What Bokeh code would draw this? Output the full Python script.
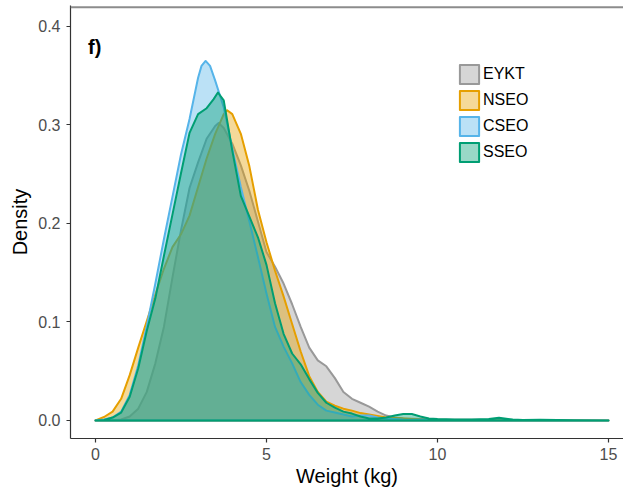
from bokeh.plotting import figure
from bokeh.models import (Legend, LegendItem, Span, Label, FixedTicker,
                          PrintfTickFormatter, Range1d)
from bokeh.embed import file_html
from bokeh.resources import INLINE

# ---- data ----
SERIES = ["EYKT", "NSEO", "CSEO", "SSEO"]
COLORS = ["#999999", "#E69F00", "#56B4E9", "#009E73"]

EYKT_X = [0, 0.5, 0.75, 1.0, 1.25, 1.5, 1.75, 2.0, 2.25, 2.5, 2.75, 3.0, 3.25, 3.5, 3.6, 3.75,
          4.0, 4.25, 4.5, 4.75, 5.0, 5.25, 5.5, 5.75, 6.0, 6.25, 6.5, 6.75, 7.0, 7.25, 7.5, 7.75,
          8.0, 8.25, 8.5, 8.75, 9.0, 9.5, 10, 11, 12, 13, 14, 15]
EYKT_Y = [0, 0, 0.001, 0.004, 0.012, 0.029, 0.058, 0.095, 0.145, 0.193, 0.236, 0.262, 0.286, 0.299, 0.302, 0.297,
          0.281, 0.259, 0.233, 0.202, 0.171, 0.156, 0.139, 0.118, 0.095, 0.074, 0.061, 0.055, 0.043, 0.029, 0.022, 0.018,
          0.014, 0.009, 0.005, 0.003, 0.002, 0.0015, 0.001, 0.0008, 0.0005, 0.0003, 0.0001, 0]

NSEO_X = [0, 0.25, 0.5, 0.75, 1.0, 1.25, 1.5, 1.75, 2.0, 2.25, 2.5, 2.75, 3.0, 3.25, 3.5, 3.75, 3.85,
          4.0, 4.25, 4.5, 4.75, 5.0, 5.25, 5.5, 5.75, 6.0, 6.25, 6.5, 6.75, 7.0, 7.25, 7.5, 7.75,
          8.0, 8.25, 8.5, 9.0, 9.5, 10, 11, 15]
NSEO_Y = [0, 0.0035, 0.009, 0.022, 0.046, 0.074, 0.101, 0.128, 0.154, 0.176, 0.189, 0.208, 0.237, 0.266, 0.291, 0.311, 0.315,
          0.311, 0.291, 0.258, 0.214, 0.181, 0.152, 0.126, 0.098, 0.070, 0.045, 0.029, 0.019, 0.015, 0.012, 0.010, 0.0075,
          0.006, 0.0045, 0.003, 0.002, 0.001, 0.0005, 0.0002, 0]

CSEO_X = [0, 0.25, 0.5, 0.75, 1.0, 1.25, 1.5, 1.75, 2.0, 2.25, 2.5, 2.75, 3.0, 3.1, 3.22, 3.35, 3.5, 3.75,
          4.0, 4.25, 4.5, 4.75, 5.0, 5.25, 5.5, 5.75, 6.0, 6.25, 6.5, 6.75, 7.0, 7.25, 7.5, 7.75,
          8.0, 8.25, 8.5, 9.0, 10, 11, 15]
CSEO_Y = [0, 0.001, 0.003, 0.009, 0.026, 0.056, 0.096, 0.139, 0.184, 0.227, 0.270, 0.306, 0.348, 0.360, 0.365, 0.360, 0.345, 0.318,
          0.276, 0.237, 0.202, 0.166, 0.129, 0.095, 0.075, 0.058, 0.039, 0.026, 0.016, 0.010, 0.008, 0.006, 0.004, 0.005,
          0.005, 0.003, 0.002, 0.001, 0.0005, 0, 0]

SSEO_X = [0, 0.25, 0.5, 0.75, 1.0, 1.25, 1.5, 1.75, 2.0, 2.25, 2.5, 2.75, 3.0, 3.25, 3.45, 3.58, 3.75,
          4.0, 4.25, 4.5, 4.75, 5.0, 5.25, 5.5, 5.75, 6.0, 6.25, 6.5, 6.75, 7.0, 7.25, 7.5, 7.75,
          8.0, 8.25, 8.5, 8.75, 9.0, 9.25, 9.5, 9.75, 10, 10.5, 11, 11.5, 11.8, 12.2, 12.5, 13, 14, 15]
SSEO_Y = [0, 0.0005, 0.003, 0.008, 0.024, 0.053, 0.091, 0.124, 0.167, 0.209, 0.251, 0.292, 0.311, 0.317, 0.326, 0.333, 0.325,
          0.274, 0.228, 0.207, 0.186, 0.158, 0.119, 0.088, 0.068, 0.057, 0.042, 0.028, 0.018, 0.013, 0.009, 0.007, 0.004,
          0.002, 0.002, 0.003, 0.005, 0.0065, 0.0065, 0.004, 0.002, 0.0015, 0.001, 0.001, 0.0015, 0.0027, 0.001, 0.0005, 0.0008, 0.0002, 0]

X_TICKS = [0, 5, 10, 15]
Y_TICKS = [0.0, 0.1, 0.2, 0.3, 0.4]
PANEL_TAG = "f)"

FONT = "Liberation Sans"
X_END = 15.44
Y_END = 0.4213

p = figure(width=623, height=491, output_backend="svg", toolbar_location=None,
           x_range=Range1d(-0.731, X_END), y_range=Range1d(-0.0183, Y_END),
           min_border_left=70, min_border_right=0, min_border_top=5, min_border_bottom=53)
p.xgrid.visible = False
p.ygrid.visible = False
p.outline_line_color = None
p.background_fill_color = "white"
p.border_fill_color = "white"

data = [(EYKT_X, EYKT_Y), (NSEO_X, NSEO_Y), (CSEO_X, CSEO_Y), (SSEO_X, SSEO_Y)]
items = []
for name, col, (xs, ys) in zip(SERIES, COLORS, data):
    r = p.patch(xs, ys, fill_color=col, fill_alpha=0.4, line_color=col, line_width=2,
                line_join="round")
    items.append(LegendItem(label=name, renderers=[r]))

for ax in (p.xaxis[0], p.yaxis[0]):
    ax.axis_line_color = "#333333"
    ax.axis_line_width = 1.2
    ax.major_tick_line_color = "#333333"
    ax.major_tick_line_width = 1.2
    ax.major_tick_in = 0
    ax.major_tick_out = 4
    ax.minor_tick_line_color = None
    ax.major_label_text_font = FONT
    ax.major_label_text_font_size = "16px"
    ax.major_label_text_color = "#4d4d4d"
    ax.axis_label_text_font = FONT
    ax.axis_label_text_font_size = "20px"
    ax.axis_label_text_font_style = "normal"
    ax.axis_label_text_color = "black"

p.xaxis[0].ticker = FixedTicker(ticks=X_TICKS)
p.xaxis[0].axis_label = "Weight (kg)"
p.xaxis[0].major_label_standoff = 5
p.xaxis[0].axis_label_standoff = 2
p.yaxis[0].ticker = FixedTicker(ticks=Y_TICKS)
p.yaxis[0].formatter = PrintfTickFormatter(format="%.1f")
p.yaxis[0].axis_label = "Density"
p.yaxis[0].major_label_standoff = 6
p.yaxis[0].axis_label_standoff = 4

top = Span(location=0.4196, dimension="width", line_color="#8c8c8c", line_width=2)
p.add_layout(top)

p.add_layout(Label(x=-0.22, y=0.379, text=PANEL_TAG, text_font=FONT, text_font_size="20px",
                   text_font_style="bold", text_baseline="middle", text_color="black"))

legend = Legend(items=items, location=(387, 274), background_fill_alpha=0, border_line_alpha=0,
                padding=0, margin=0, spacing=2, glyph_width=24, glyph_height=24, label_standoff=2,
                label_text_font=FONT, label_text_font_size="16px", label_text_color="black")
p.add_layout(legend)

open("out.html", "w").write(file_html(p, INLINE))
